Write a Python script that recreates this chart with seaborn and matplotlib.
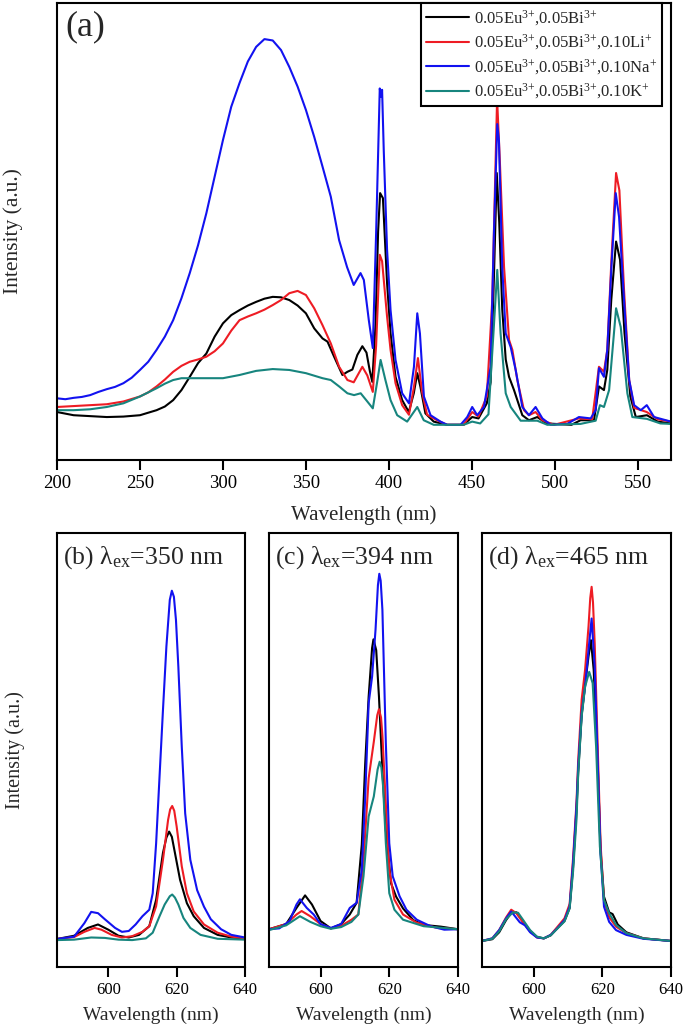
import matplotlib
matplotlib.use("Agg")
import matplotlib.pyplot as plt
import seaborn as sns
import pandas as pd

# ---------------- data (wavelength nm, intensity a.u.) ----------------
SAMPLES = [
    "0.05Eu$^{3{+}}$,0.05Bi$^{3{+}}$",
    "0.05Eu$^{3{+}}$,0.05Bi$^{3{+}}$,0.10Li$^{{+}}$",
    "0.05Eu$^{3{+}}$,0.05Bi$^{3{+}}$,0.10Na$^{{+}}$",
    "0.05Eu$^{3{+}}$,0.05Bi$^{3{+}}$,0.10K$^{{+}}$",
]
COLORS = ["#000000", "#ee1c24", "#1212f0", "#17857e"]

# (a) excitation spectra
a_black = [(200,10.5),(210,9.8),(220,9.6),(230,9.4),(240,9.5),(250,9.8),(260,10.9),(265,11.7),(270,13.1),
           (275,15.3),(280,18.2),(285,21.2),(290,23.3),(295,27.0),(300,29.9),(305,31.7),(310,32.8),(315,33.8),
           (320,34.6),(325,35.3),(330,35.7),(335,35.6),(340,35.0),(345,33.8),(350,32.1),(355,28.8),(360,26.6),
           (363,25.9),(367,22.6),(372,18.6),
           (375,19.3),(378,19.8),(381,23.0),(384,24.9),(386.5,23.5),(388.5,19.5),(390,17.1),(392,30.0),
           (393.5,50.0),(394.7,58.4),(396.4,57.3),(398.9,38.7),(401,27.7),(404,18.2),(408,13.1),
           (412,10.5),(415,14.6),(417.1,19.0),(419,16.0),(422,10.2),(427,8.4),(435,7.7),(445,7.7),
           (450.2,9.4),(454,9.1),(459,12.4),(461.3,17.0),(463.3,40.0),(465,62.8),(466.5,52.0),
           (468.3,33.0),(470.4,22.0),(472.4,18.2),(475.4,15.3),(480.4,9.8),(484.4,8.7),(489.4,9.4),
           (495,8.0),(510,7.7),(515.5,8.7),(523.6,8.7),(526.6,16.1),(529.6,15.3),(531.6,19.7),
           (534,35.0),(536.9,47.8),(539.3,43.8),(542,27.7),(545.5,13.9),(548.8,9.4),(555.5,9.8),
           (562,8.4),(570,8.0)]
a_red = [(200,11.6),(210,11.8),(220,12.0),(230,12.2),(240,12.8),(250,13.9),(255,14.8),(260,16.1),(265,17.6),
         (270,19.3),(275,20.6),(280,21.5),(285,22.0),(290,22.6),(295,23.8),(300,25.5),(305,28.3),(310,30.6),
         (315,31.4),(320,32.1),(325,32.9),(330,33.9),(335,35.0),(340,36.5),(345,37.0),
         (350,36.1),(355,33.2),(360,29.5),(365,25.5),(370,20.4),(375,17.5),(378.8,17.0),(384,20.4),
         (387,18.5),(390.3,14.9),(392.3,25.0),(394.5,44.9),(395.9,43.5),(398.9,31.4),(401,24.1),
         (404,16.8),(408,12.0),(412.1,9.9),(415.1,16.0),(417.5,22.3),(420,14.9),(423,9.9),(429,8.7),
         (435,7.7),(445,7.7),(450.2,10.5),(454,9.5),(459,13.9),(462.3,35.0),(465.2,79.0),(466.8,66.0),
         (469.4,42.2),(472.4,26.3),(474.4,24.1),(477.4,17.5),(481.4,10.9),(484.4,9.8),(488.4,10.5),
         (492.5,8.7),(499.5,7.7),(514.5,9.1),(522.5,8.9),(526.6,20.4),(529.6,19.3),(531.6,24.1),
         (534.1,43.8),(536.9,62.8),(538.9,59.0),(541.7,37.2),(544.8,17.5),(547.8,11.4),(555.4,10.5),
         (562,8.9),(570,8.4)]
a_blue = [(200,13.5),(205,13.3),(210,13.6),(215,13.8),(220,14.2),(225,14.9),(230,15.5),(235,16.0),(240,16.8),
          (245,18.0),(250,19.7),(255,21.5),(260,24.1),(265,27.0),(270,30.6),(275,35.4),(280,40.9),(285,47.0),
          (290,54.0),(295,62.0),(300,70.0),(305,77.3),(310,82.5),(315,87.2),(320,90.4),(325,92.1),(330,91.8),
          (335,89.7),(340,86.0),(345,81.7),(350,76.6),(355,70.7),(360,64.2),(365,57.6),(370,48.1),(374.8,42.2),
          (378.8,38.3),
          (382.9,40.9),(384.9,39.4),(387.9,30.6),(390.3,24.5),(392.3,49.6),(394.5,81.3),(395.2,79.5),
          (395.9,81.0),(396.9,67.8),(398.9,46.0),(401,32.8),(404,21.9),(408,14.6),(412.1,12.4),
          (415.1,20.4),(417.1,32.1),(418.7,27.7),(421.1,13.9),(425.1,9.8),(431.1,8.4),(435.2,7.7),
          (443.2,7.7),(447.2,9.4),(450.2,11.6),(453.2,9.8),(457.3,11.6),(461.3,20.4),(463.3,49.7),
          (465.3,73.5),(466.3,70.0),(468.3,42.2),(470.4,27.7),(473.4,24.7),(476.4,19.7),(480.4,11.6),
          (484.4,9.8),(488.4,11.6),(492.5,9.1),(497.5,7.7),(507.5,7.9),(514.5,9.4),(521.6,9.1),
          (524.6,10.9),(526.6,20.1),(529.6,18.2),(531.6,24.1),(534.1,42.2),(536.7,58.4),(538.7,53.2),
          (541.7,35.0),(544.8,17.5),(547.8,12.0),(551.8,10.9),(555.4,12.0),(559.8,9.4),(570,8.4)]
a_teal = [(200,10.9),(210,10.9),(220,11.1),(230,11.6),(240,12.4),(250,13.9),(260,15.7),(265,16.7),(270,17.5),
          (275,17.9),(280,17.9),(290,17.9),(300,17.9),(310,18.6),(320,19.5),(330,19.9),(340,19.7),(350,19.0),
          (360,17.9),(365,17.5),(370,16.1),(375,14.6),(379,14.2),(383,14.6),(387,12.8),(390.3,11.3),
          (392.9,17.0),(395,21.9),(397.9,17.5),(401,13.1),(405,9.8),(411,8.4),(417.1,11.6),(421,8.7),
          (427,7.7),(445,7.7),(450.2,8.4),(455,8.0),(460,10.0),(463,27.7),(465.3,41.6),(467.3,27.7),
          (470.4,14.6),(473.4,11.6),(479.4,8.6),(489.4,8.6),(495.5,7.7),(515.5,7.9),(524.6,8.6),
          (527.2,12.0),(529.6,11.6),(532.7,15.3),(536.9,33.2),(539.7,29.1),(543.7,14.6),(546.7,9.4),
          (555.5,9.0),(563.6,8.0),(570,7.9)]

# (b) emission, lambda_ex = 350 nm
b_black = [(585,6.45),(590,7.2),(594,9.0),(597,9.8),(600,8.6),(603,7.2),(606,6.8),(609,7.4),(612,9.4),
           (614,15.5),(616,26.3),(617,29.8),(617.8,31.2),(618.6,30.0),(619.5,26.3),(621,20.1),(623,14.7),
           (625,11.7),(628,9.0),(632,7.4),(636,6.8),(640,6.6)]
b_red = [(585,6.45),(590,6.9),(593,8.1),(596,9.0),(598,8.6),(601,7.4),(604,6.8),(607,7.1),(610,8.1),
         (612,9.4),(614,14.0),(616,24.7),(617.5,33.9),(618.1,36.3),(618.7,37.1),(619.3,36.0),(620,32.4),
         (621.5,23.2),(623,17.0),(625,12.8),(628,9.8),(632,7.9),(636,7.0),(640,6.6)]
b_blue = [(585,6.45),(590,7.0),(593,10.1),(595,12.7),(597,12.4),(599,11.0),(602,9.0),(604,8.1),
          (606,8.3),(608,9.8),(610,11.7),(612,13.2),(613,17.0),(614,28.5),(615,43.9),(616,59.2),
          (617,73.8),(618,84.6),(618.6,86.7),(619.2,85.3),(619.8,80.0),(620.5,69.2),(621.5,50.8),
          (622.5,35.4),(624,24.7),(626,17.7),(628,13.9),(630,11.0),(633,8.7),(636,7.4),(640,6.8)]
b_teal = [(585,6.2),(590,6.3),(595,6.8),(599,6.7),(603,6.3),(607,6.2),(611,6.6),(613,7.9),(615,11.7),
          (616.5,14.4),(618,16.3),(618.7,16.7),(619.5,16.0),(620.5,14.4),(622,11.3),(624,9.0),(627,7.4),
          (632,6.5),(640,6.3)]

# (c) emission, lambda_ex = 394 nm
c_black = [(585,8.7),(590,9.9),(593,13.6),(595.5,16.5),(597.5,14.4),(600,10.6),(603,8.9),(606,9.9),
           (608.5,12.1),(610.5,14.8),(612,28.2),(613,46.9),(614,62.3),(615,73.5),(615.4,75.5),(616.2,73.0),
           (617,62.3),(618,45.4),(619,31.5),(620.5,19.3),(622,16.2),(624,13.5),(627,10.8),(630,9.7),
           (635,9.3),(640,8.7)]
c_red = [(585,8.7),(590,9.9),(593,12.1),(594.5,12.9),(597,11.7),(600,9.9),(603,8.9),(606,9.5),
         (609,10.9),(611,12.1),(612.5,24.4),(614,43.5),(615.5,51.9),(616.5,58.0),(617,59.4),(617.6,57.5),
         (618,53.4),(619,37.6),(620,22.3),(621.5,15.5),(624,12.1),(628,10.2),(634,9.0),(640,8.7)]
c_blue = [(585,8.7),(588,8.9),(591,10.6),(593,14.4),(594,15.6),(596,13.6),(598,12.1),(600,9.9),
          (603,9.0),(606,9.9),(608.5,13.6),(610.5,14.8),(612,22.4),(613,39.2),(614,60.8),(615,66.9),
          (616,77.7),(616.7,88.0),(617.1,90.6),(617.5,89.0),(618,82.3),(619,51.6),(620,28.5),(621,20.9),
          (623,16.3),(625,13.2),(628,10.9),(632,9.4),(636,8.6),(640,8.7)]
c_teal = [(585,8.5),(590,9.6),(594,11.7),(597,10.4),(600,9.4),(603,8.8),(606,9.2),(609,10.4),
          (611,12.1),(612.5,20.9),(614,34.7),(615.5,39.3),(616.6,45.5),(617.2,47.3),(617.7,46.0),(618.2,41.6),
          (619,28.5),(620,17.0),(621.5,13.2),(624,10.9),(630,9.4),(640,8.7)]

# (d) emission, lambda_ex = 465 nm
d_black = [(585,6.0),(588,6.4),(590,8.0),(592,10.8),(593.5,12.5),(595,12.6),(597,10.4),(599,8.3),
           (601,6.9),(603,6.6),(605,7.3),(607,9.0),(609,10.6),(610.5,13.6),(611.5,23.0),(612.5,36.0),
           (613,45.0),(614,58.0),(615,65.0),(616,71.6),(616.7,75.3),(617.5,68.5),(618.5,50.8),
           (619.5,27.0),(620.5,16.2),(622,12.6),(623,12.2),(624.5,9.8),(627,8.0),(632,6.6),(640,6.0)]
d_red = [(585,6.0),(588,6.6),(590,8.5),(592,11.4),(593.5,13.2),(595,12.4),(597,10.2),(599,8.2),
         (601,6.8),(603,6.6),(605,7.4),(607,9.3),(609,11.2),(610.5,14.5),(611.5,25.0),(612.5,38.0),
         (613,47.7),(614,61.6),(615,68.5),(616,78.5),(616.5,85.0),(616.9,87.6),(617.3,84.0),(617.8,74.5),
         (618.5,55.3),(619.5,28.4),(620.5,15.3),(622,11.5),(624,9.3),(627,7.8),(632,6.6),(640,6.0)]
d_blue = [(585,6.0),(588,6.6),(590,8.5),(592,11.2),(593.5,12.8),(594.5,11.8),(596,10.3),(597.5,9.6),
          (599,8.0),(601,6.8),(603,6.6),(605,7.4),(607,9.0),(609,10.8),(610.5,13.9),(611.5,24.0),
          (612.5,37.0),(613,46.2),(614,58.5),(615,64.6),(616,73.1),(616.9,80.3),(617.8,69.2),
          (618.5,51.6),(619.5,26.2),(620.5,13.9),(622,10.4),(624,8.5),(627,7.4),(632,6.5),(640,6.0)]
d_teal = [(585,6.0),(588,6.5),(590,8.2),(592,11.0),(594,12.6),(595.5,12.5),(597,10.8),(599,8.5),
          (601,7.0),(603,6.6),(605,7.3),(607,8.9),(609,10.5),(610.5,13.5),(611.5,22.0),(612.5,34.0),
          (613,44.6),(614,57.7),(615,64.6),(616.2,68.0),(617.2,65.4),(618.2,50.8),(619.3,27.8),
          (620.5,15.4),(622,12.4),(624,9.7),(627,7.8),(632,6.6),(640,6.0)]

A_XTICKS = [200, 250, 300, 350, 400, 450, 500, 550]
B_XTICKS = [600, 620, 640]
PANEL_TITLES = ["(b) λ$_{\\mathrm{ex}}$=350 nm",
                "(c) λ$_{\\mathrm{ex}}$=394 nm",
                "(d) λ$_{\\mathrm{ex}}$=465 nm"]


def frame(series_list):
    rows = []
    for name, pts in zip(SAMPLES, series_list):
        for wl, inten in pts:
            rows.append({"wl": wl, "I": inten, "sample": name})
    return pd.DataFrame(rows)


sns.set_style("white")
plt.rcParams["font.family"] = ["Liberation Serif", "DejaVu Serif"]
plt.rcParams["mathtext.fontset"] = "custom"
plt.rcParams["mathtext.rm"] = "Liberation Serif"
plt.rcParams["mathtext.it"] = "Liberation Serif:italic"
plt.rcParams["mathtext.bf"] = "Liberation Serif:bold"
plt.rcParams["axes.edgecolor"] = "black"

palette = dict(zip(SAMPLES, COLORS))

fig = plt.figure(figsize=(6.85, 10.32), dpi=100)

W, H = 685.0, 1032.0
def rect(x0, y0, x1, y1):
    return [x0 / W, 1 - y1 / H, (x1 - x0) / W, (y1 - y0) / H]

ax_a = fig.add_axes(rect(57, 3, 671, 460))
bottom_axes = [fig.add_axes(rect(57, 533, 245, 967)),
               fig.add_axes(rect(269, 533, 458, 967)),
               fig.add_axes(rect(482, 533, 671, 967))]

def style_axes(ax, xlim, xticks, tick_size):
    for s in ax.spines.values():
        s.set_linewidth(1.5)
        s.set_color("black")
    ax.set_xlim(*xlim)
    ax.set_ylim(0, 100)
    ax.set_xticks(xticks)
    ax.set_yticks([])
    ax.tick_params(axis="x", direction="out", bottom=True, top=False, length=7, width=1.5,
                   pad=3.5, labelsize=tick_size, colors="black")
    ax.tick_params(axis="y", left=False, right=False, labelleft=False)

# panel (a)
df_a = frame([a_black, a_red, a_blue, a_teal])
sns.lineplot(data=df_a, x="wl", y="I", hue="sample", hue_order=SAMPLES, palette=palette,
             estimator=None, sort=False, linewidth=1.5, ax=ax_a)
style_axes(ax_a, (200, 570), A_XTICKS, 13.5)
ax_a.set_xlabel("Wavelength (nm)", fontsize=15)
ax_a.set_ylabel("Intensity (a.u.)", fontsize=15.5)
ax_a.xaxis.set_label_coords(0.5, -0.098)
ax_a.yaxis.set_label_coords(-0.056, 0.5)
ax_a.text(0.013, 0.985, "(a)", transform=ax_a.transAxes, fontsize=26, va="top", ha="left")
sns.move_legend(ax_a, "upper right", bbox_to_anchor=(0.985, 1.0), borderaxespad=0, title=None,
                frameon=True, fancybox=False, edgecolor="black", framealpha=1, fontsize=12,
                handlelength=2.6, handletextpad=0.25, labelspacing=0.3, borderpad=0.3)
leg = ax_a.get_legend()
leg.get_frame().set_linewidth(1.5)
leg.set_zorder(10)
for ln in leg.get_lines():
    ln.set_linewidth(1.5)

# panels (b)-(d)
for ax, series, title, idx in zip(bottom_axes,
                                  [[b_black, b_red, b_blue, b_teal],
                                   [c_black, c_red, c_blue, c_teal],
                                   [d_black, d_red, d_blue, d_teal]],
                                  PANEL_TITLES, range(3)):
    sns.lineplot(data=frame(series), x="wl", y="I", hue="sample", hue_order=SAMPLES,
                 palette=palette, estimator=None, sort=False, linewidth=1.5, legend=False, ax=ax)
    style_axes(ax, (585, 640), B_XTICKS, 12)
    ax.set_xlabel("Wavelength (nm)", fontsize=14)
    ax.xaxis.set_label_coords(0.5, -0.092)
    if idx == 0:
        ax.set_ylabel("Intensity (a.u.)", fontsize=14.5)
        ax.yaxis.set_label_coords(-0.17, 0.5)
    else:
        ax.set_ylabel("")
    ax.text(0.03, 0.975, title, transform=ax.transAxes, fontsize=18.5, va="top", ha="left")

fig.savefig("out.png", dpi=100)
